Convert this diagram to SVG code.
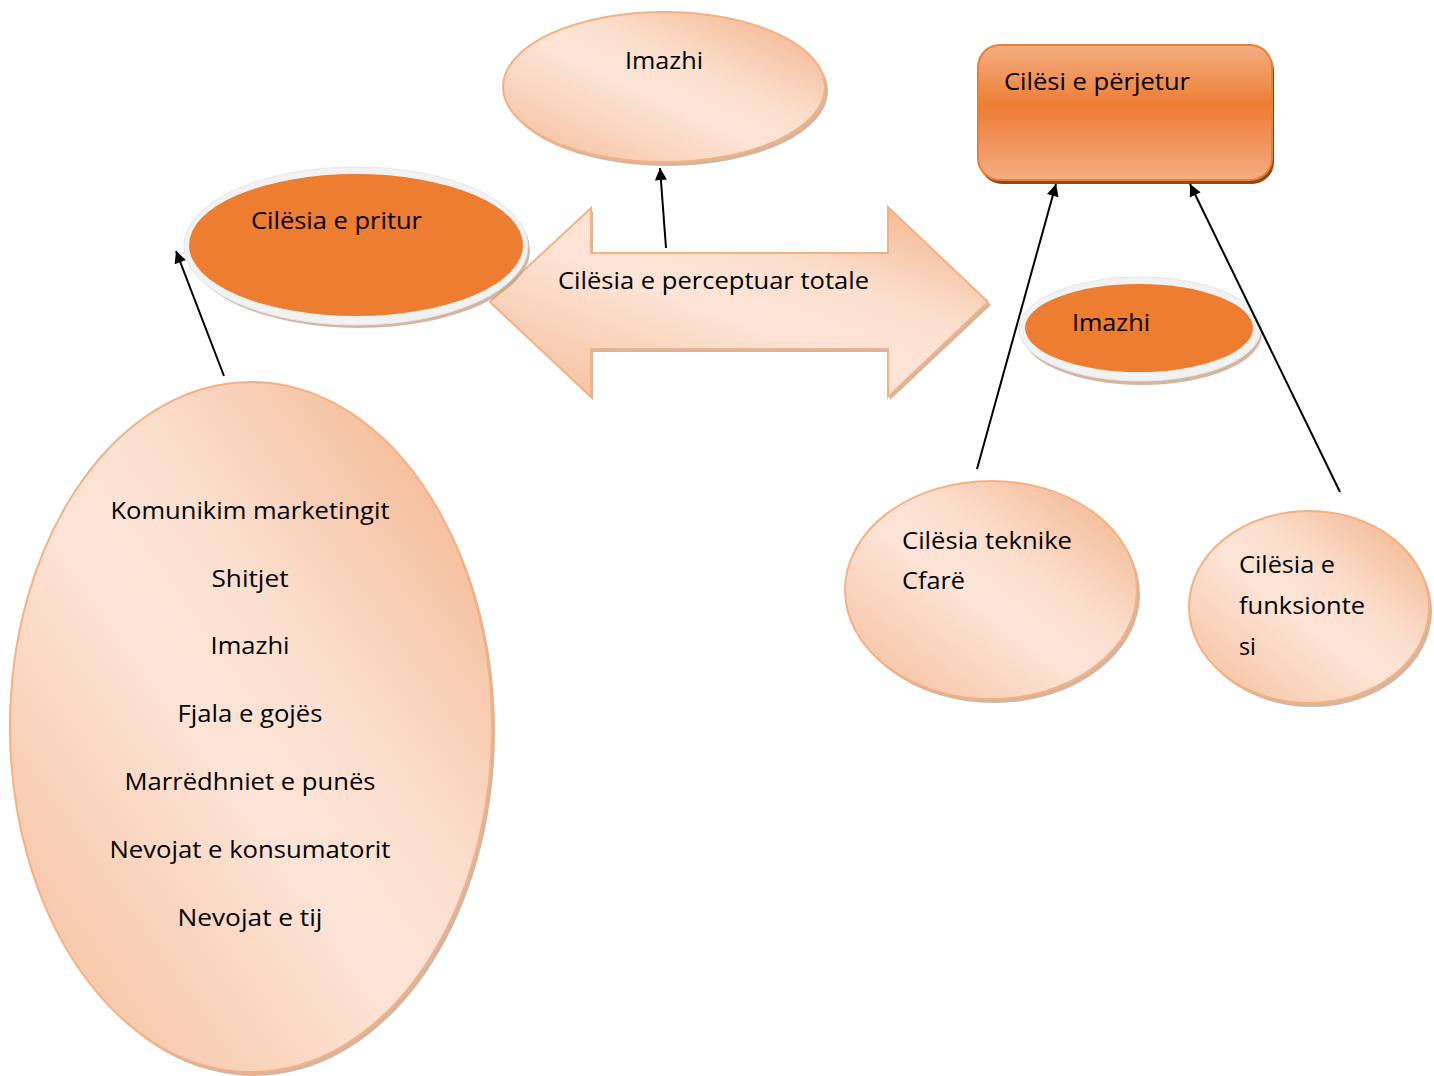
<svg xmlns="http://www.w3.org/2000/svg" width="1434" height="1076" viewBox="0 0 1434 1076">
<defs>
<linearGradient id="peach" x1="0" y1="1" x2="1" y2="0">
<stop offset="0" stop-color="#f6bc98"/>
<stop offset="0.45" stop-color="#fce4d6"/>
<stop offset="0.6" stop-color="#fbe0cf"/>
<stop offset="1" stop-color="#f2ae84"/>
</linearGradient>
<linearGradient id="peachArrow" x1="0" y1="1" x2="1" y2="0">
<stop offset="0" stop-color="#f6bc98"/>
<stop offset="0.45" stop-color="#fce4d6"/>
<stop offset="0.65" stop-color="#fbe0cf"/>
<stop offset="1" stop-color="#f2ae84"/>
</linearGradient>
<linearGradient id="rectGrad" x1="0" y1="0" x2="0" y2="1">
<stop offset="0" stop-color="#f4ae84"/>
<stop offset="0.45" stop-color="#ed7d31"/>
<stop offset="0.55" stop-color="#ee8442"/>
<stop offset="1" stop-color="#f4ae84"/>
</linearGradient>
<marker id="ah" viewBox="0 0 10 10" refX="10" refY="5" markerWidth="14" markerHeight="12" markerUnits="userSpaceOnUse" orient="auto">
<path d="M0,0 L10,5 L0,10 z" fill="#000"/>
</marker>
</defs>
<style>
text{font-family:"Open Sans","Noto Sans","Liberation Sans",sans-serif;font-size:23px;fill:#000}
.pe{fill:url(#peach);stroke:#f4b183;stroke-width:2}
.sh{fill:#c9a287;opacity:0.8}
.ring{fill:#f2f2f2;stroke:#e6e6e6;stroke-width:1}
.or{fill:#ed7d31}
.con{stroke:#000;stroke-width:2;fill:none;marker-end:url(#ah)}
</style>
<rect width="1434" height="1076" fill="#fff"/>

<g id="arrow-total">
<path d="M493,305 L593,211 L593,256 L890,256 L890,210 L991,305 L890,400 L890,352 L593,352 L593,400 Z" fill="#c9a287" opacity="0.8"/>
<path d="M490,302 L591,208 L591,253 L888,253 L888,207 L988,302 L888,397 L888,349 L591,349 L591,397 Z" fill="url(#peachArrow)" stroke="#f4b183" stroke-width="2"/>
<text x="558" y="289" textLength="311" lengthAdjust="spacingAndGlyphs">Cilësia e perceptuar totale</text>
</g>

<g id="node-pritur">
<ellipse cx="359" cy="250" rx="171" ry="78" class="sh"/>
<ellipse cx="356" cy="246" rx="172" ry="79" class="ring"/>
<ellipse cx="356" cy="245" rx="167" ry="71" class="or"/>
<text x="251" y="229" textLength="171" lengthAdjust="spacingAndGlyphs">Cilësia e pritur</text>
</g>

<g id="node-imazhi-top">
<ellipse cx="667" cy="91" rx="161" ry="75" class="sh"/>
<ellipse cx="664" cy="87" rx="161" ry="75" class="pe"/>
<text x="664" y="69" text-anchor="middle" textLength="78" lengthAdjust="spacingAndGlyphs">Imazhi</text>
</g>

<g id="node-perjetur">
<rect x="980" y="49" width="294" height="135" rx="22" fill="#8a4a20"/>
<rect x="978" y="45" width="294" height="135" rx="22" fill="url(#rectGrad)" stroke="#ed7d31" stroke-width="2"/>
<text x="1004" y="90" textLength="186" lengthAdjust="spacingAndGlyphs">Cilësi e përjetur</text>
</g>

<g id="node-imazhi-right">
<ellipse cx="1142" cy="333" rx="120" ry="52" class="sh"/>
<ellipse cx="1140" cy="329" rx="121" ry="52" class="ring"/>
<ellipse cx="1139" cy="328" rx="114" ry="44" class="or"/>
<text x="1072" y="331" textLength="78" lengthAdjust="spacingAndGlyphs">Imazhi</text>
</g>

<g id="node-list">
<ellipse cx="254" cy="731" rx="241" ry="345" class="sh"/>
<ellipse cx="251" cy="727" rx="241" ry="345" class="pe"/>
<text x="250" y="519" text-anchor="middle" textLength="279" lengthAdjust="spacingAndGlyphs">Komunikim marketingit</text>
<text x="250" y="587" text-anchor="middle" textLength="77" lengthAdjust="spacingAndGlyphs">Shitjet</text>
<text x="250" y="654" text-anchor="middle" textLength="79" lengthAdjust="spacingAndGlyphs">Imazhi</text>
<text x="250" y="722" text-anchor="middle" textLength="145" lengthAdjust="spacingAndGlyphs">Fjala e gojës</text>
<text x="250" y="790" text-anchor="middle" textLength="251" lengthAdjust="spacingAndGlyphs">Marrëdhniet e punës</text>
<text x="250" y="858" text-anchor="middle" textLength="281" lengthAdjust="spacingAndGlyphs">Nevojat e konsumatorit</text>
<text x="250" y="926" text-anchor="middle" textLength="145" lengthAdjust="spacingAndGlyphs">Nevojat e tij</text>
</g>

<g id="node-teknike">
<ellipse cx="994" cy="594" rx="146" ry="109" class="sh"/>
<ellipse cx="991" cy="590" rx="146" ry="109" class="pe"/>
<text x="902" y="549" textLength="170" lengthAdjust="spacingAndGlyphs">Cilësia teknike</text>
<text x="902" y="589" textLength="63" lengthAdjust="spacingAndGlyphs">Cfarë</text>
</g>

<g id="node-funksionte">
<ellipse cx="1312" cy="611" rx="120" ry="96" class="sh"/>
<ellipse cx="1309" cy="607" rx="120" ry="96" class="pe"/>
<text x="1239" y="573" textLength="96" lengthAdjust="spacingAndGlyphs">Cilësia e</text>
<text x="1239" y="614" textLength="126" lengthAdjust="spacingAndGlyphs">funksionte</text>
<text x="1239" y="655" textLength="17" lengthAdjust="spacingAndGlyphs">si</text>
</g>

<g id="connectors">
<line x1="224" y1="376" x2="176" y2="251" class="con"/>
<line x1="666" y1="248" x2="660" y2="168" class="con"/>
<line x1="977" y1="469" x2="1056" y2="184" class="con"/>
<line x1="1340" y1="492" x2="1190" y2="184" class="con"/>
</g>
</svg>
